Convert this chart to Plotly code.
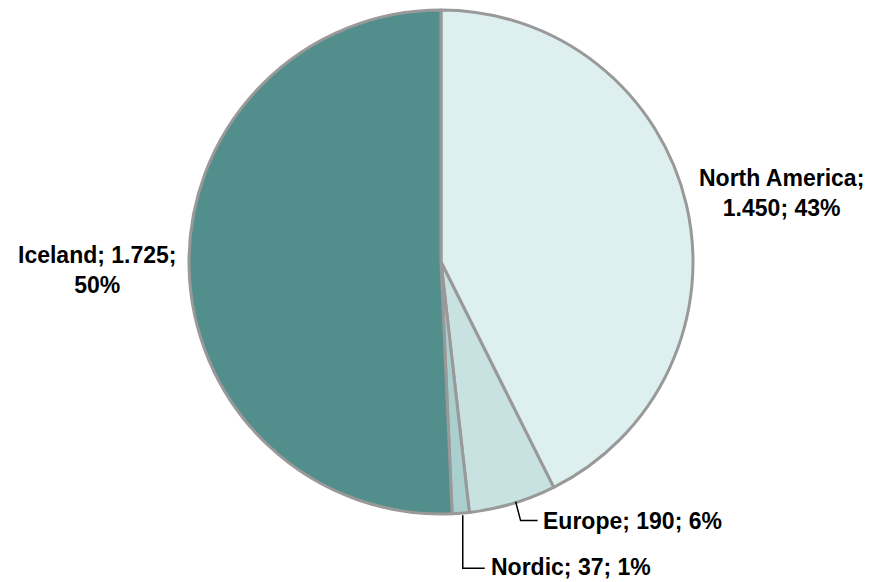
import math
import plotly.graph_objects as go

# Data
categories = ["North America", "Europe", "Nordic", "Iceland"]
values = [1450, 190, 37, 1725]
pct_labels = ["43%", "6%", "1%", "50%"]
colors = ["#DDEFEF", "#C8E2E2", "#A9CFCF", "#528E8C"]

W, H = 872, 582
OFF = 8  # page body margin of the browser
CX, CY, R = 441, 262, 252  # pie centre / radius in window pixels (layout)

def fmt(v):
    return f"{v:,}".replace(",", ".")

texts = [f"{c}; {fmt(v)}; {p}" for c, v, p in zip(categories, values, pct_labels)]

def px(x, y):
    return (x - OFF) / W, 1 - (y - OFF) / H

fig = go.Figure(go.Pie(
    labels=categories,
    values=values,
    sort=False,
    direction="clockwise",
    rotation=0,
    textinfo="none",
    hoverinfo="label+value+percent",
    marker=dict(colors=colors, line=dict(color="#999999", width=3)),
    domain=dict(x=[px(CX - R, 0)[0], px(CX + R, 0)[0]],
                y=[px(0, CY + R)[1], px(0, CY - R)[1]]),
    showlegend=False,
))

# mid-angle edge points from data
total = sum(values)
edge = []
cum = 0
for v in values:
    mid = (cum + v / 2) / total * 2 * math.pi
    edge.append((CX + R * math.sin(mid), CY - R * math.cos(mid)))
    cum += v

font = dict(family="Liberation Sans, Arial, sans-serif", size=23, color="#000000")
annotations = []
shapes = []

# North America
x, y = px(781, 193)
annotations.append(dict(x=x, y=y, xref="paper", yref="paper", showarrow=False,
                        text=f"<b>{categories[0]};<br>{fmt(values[0])}; {pct_labels[0]}</b>",
                        xanchor="center", yanchor="middle", font=font, align="center"))
# Iceland
x, y = px(97.5, 270)
annotations.append(dict(x=x, y=y, xref="paper", yref="paper", showarrow=False,
                        text=f"<b>{categories[3]}; {fmt(values[3])};<br>{pct_labels[3]}</b>",
                        xanchor="center", yanchor="middle", font=font, align="center"))

# Europe with leader line
ex, ey = edge[1]
p0 = (ex + 3, ey - 2)
p1 = (ex + 8, ey + 17)
p2 = (ex + 25, ey + 17)
shapes.append(dict(type="path", xref="paper", yref="paper",
                   path="M {} {} L {} {} L {} {}".format(*px(*p0), *px(*p1), *px(*p2)),
                   line=dict(color="#000000", width=1.5)))
x, y = px(p2[0] + 3, p2[1])
annotations.append(dict(x=x, y=y, xref="paper", yref="paper", showarrow=False,
                        text=f"<b>{texts[1]}</b>", xanchor="left", yanchor="middle", font=font))

# Nordic with leader line
nx, ny = edge[2]
q0 = (nx + 2, ny + 2)
q1 = (nx + 2, ny + 55)
q2 = (nx + 24, ny + 55)
shapes.append(dict(type="path", xref="paper", yref="paper",
                   path="M {} {} L {} {} L {} {}".format(*px(*q0), *px(*q1), *px(*q2)),
                   line=dict(color="#000000", width=1.5)))
x, y = px(q2[0] + 4, q2[1] - 1)
annotations.append(dict(x=x, y=y, xref="paper", yref="paper", showarrow=False,
                        text=f"<b>{texts[2]}</b>", xanchor="left", yanchor="middle", font=font))

fig.update_layout(
    width=W, height=H,
    margin=dict(l=0, r=0, t=0, b=0),
    paper_bgcolor="#FFFFFF",
    plot_bgcolor="#FFFFFF",
    annotations=annotations,
    shapes=shapes,
)

fig.write_html("out.html")
